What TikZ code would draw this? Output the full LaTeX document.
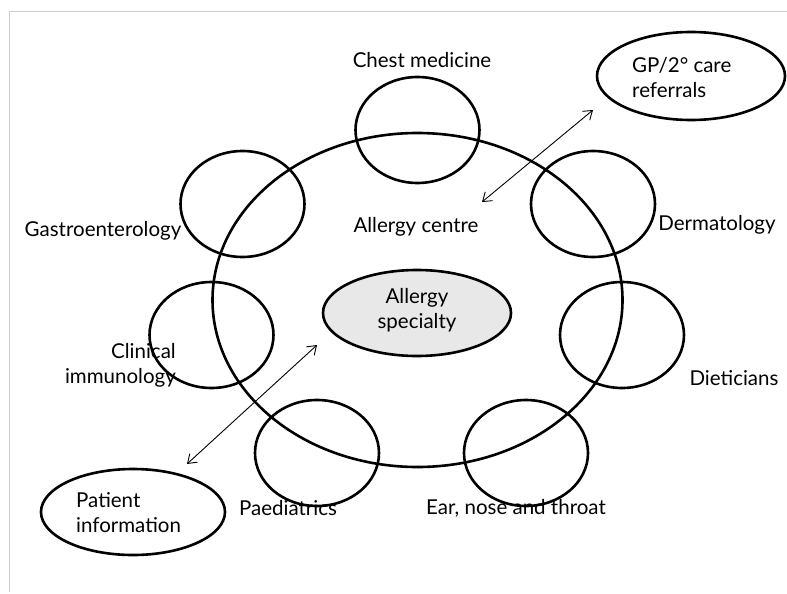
\documentclass[tikz,border=0pt]{standalone}
\usepackage{fontspec}
\setmainfont{Lato}
\usetikzlibrary{shapes.geometric,arrows.meta}
\definecolor{framegray}{RGB}{205,205,205}
\definecolor{fillgray}{RGB}{232,232,232}
\tikzset{
  ring/.style={draw, ellipse, line width=2.6pt, inner sep=0pt, minimum width=124pt, minimum height=106pt},
  bigring/.style={draw, ellipse, line width=2.6pt, inner sep=0pt},
  lbl/.style={font=\fontsize{20.5}{25}\selectfont, inner sep=0pt},
  link/.style={line width=0.9pt, {Straight Barb[angle=70:10pt]}-{Straight Barb[angle=70:10pt]}}
}
\begin{document}
\begin{tikzpicture}[x=1pt,y=-1pt]
\useasboundingbox (0,0) rectangle (787,594);
\draw[framegray, line width=1.6pt] (9.5,592) -- (9.5,11.5) -- (787,11.5);
% big ellipse
\node[bigring, minimum width=410pt, minimum height=334pt] (centre) at (417.5,300) {};
% small rings
\node[ring] (chest) at (417.5,130) {};
\node[ring] (gastro) at (242.5,204) {};
\node[ring] (derm) at (593,204) {};
\node[ring] (clin) at (211.5,335) {};
\node[ring] (diet) at (622,335) {};
\node[ring] (paed) at (317,453) {};
\node[ring] (ent) at (526,453) {};
% specialty
\node[draw, ellipse, line width=2.6pt, fill=fillgray, inner sep=0pt, minimum width=188pt, minimum height=86pt] (spec) at (417,313) {};
\node[lbl, align=center] (spect) at (417,310) {Allergy\\specialty};
% GP and patient ovals
\node[draw, ellipse, line width=2.6pt, inner sep=0pt, minimum width=188pt, minimum height=88pt] (gp) at (691,76) {};
\node[lbl, align=left, anchor=west] (gpt) at (632,78) {GP/2° care\\referrals};
\node[draw, ellipse, line width=2.6pt, inner sep=0pt, minimum width=184pt, minimum height=86pt] (pat) at (133,512) {};
\node[lbl, align=left, anchor=west] (patt) at (76,513) {Patient\\information};
% labels
\node[lbl] (chestt) at (422,60) {Chest medicine};
\node[lbl] (centret) at (416,227) {Allergy centre};
\node[lbl] (gastrot) at (103,231) {Gastroenterology};
\node[lbl] (dermt) at (717,225) {Dermatology};
\node[lbl] (dietbt) at (734,378) {Dieticians};
\node[lbl, align=right, anchor=east] (clint) at (176,365) {Clinical\\immunology};
\node[lbl] (paedt) at (288,508) {Paediatrics};
\node[lbl] (entt) at (516,508) {Ear, nose and throat};
% arrows
\coordinate (g1) at (482,202);
\coordinate (g2) at (593,110);
\coordinate (p1) at (187,464);
\coordinate (p2) at (317,345);
\draw[link] (g1) -- (g2);
\draw[link] (p1) -- (p2);
\end{tikzpicture}
\end{document}
